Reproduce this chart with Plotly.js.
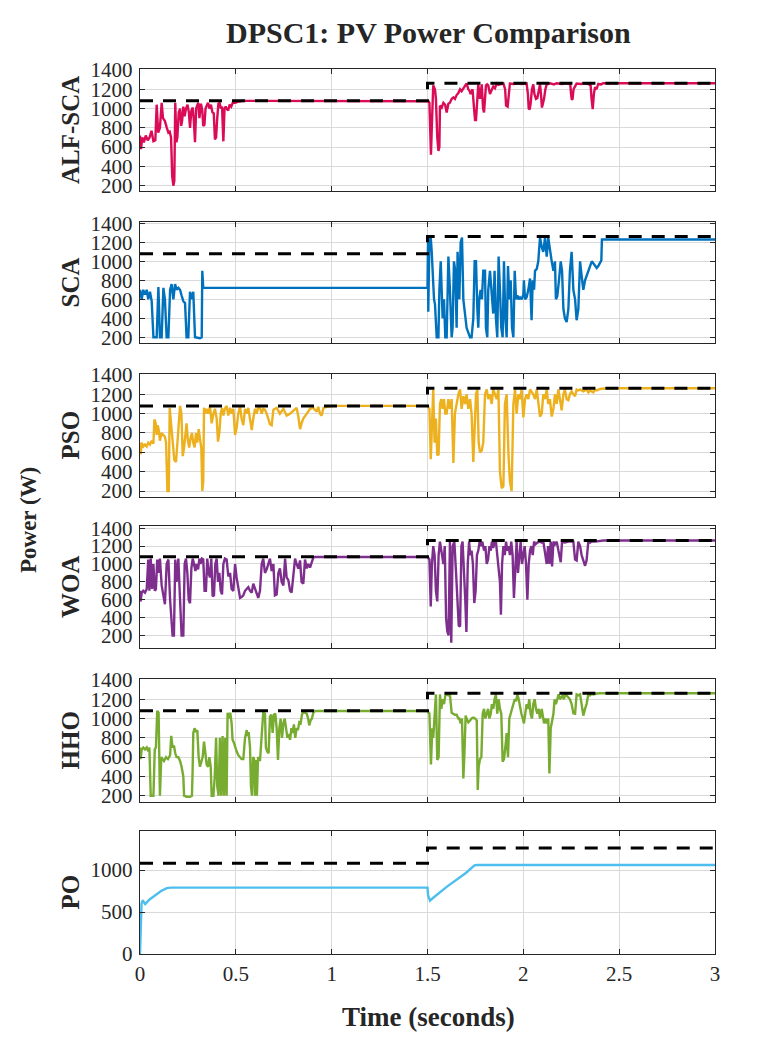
<!DOCTYPE html>
<html>
<head>
<meta charset="utf-8">
<script src="https://cdn.plot.ly/plotly-3.0.1.min.js"></script>
<style>
  html, body { margin: 0; padding: 0; background: #fff; }
  #plot { width: 757px; height: 1040px; }
</style>
</head>
<body>
<div id="plot"></div>
<script>
// panel names and colours
const panelNames = ["ALF-SCA", "SCA", "PSO", "WOA", "HHO", "PO"];
const panelColors = ["#DA0B57", "#0072BD", "#EDB120", "#7E2F8E", "#77AC30", "#4DBEEE"];

// reference (available max power) step
const refTime = [0, 1.5, 1.5, 3];
const refPower = [1080, 1080, 1262, 1262];

// [time s, power W]
const alfScaData = [[0,720],[0.005,580],[0.012,700],[0.02,650],[0.03,720],[0.04,670],[0.05,700],[0.06,770],[0.07,660],[0.08,670],[0.087,1040],[0.095,750],[0.104,800],[0.113,1060],[0.12,900],[0.13,870],[0.14,800],[0.148,750],[0.155,760],[0.162,700],[0.168,300],[0.174,200],[0.179,250],[0.184,1060],[0.19,650],[0.195,700],[0.202,960],[0.209,1000],[0.215,820],[0.22,880],[0.226,1020],[0.233,920],[0.24,1000],[0.248,1040],[0.255,960],[0.261,800],[0.268,980],[0.275,1010],[0.28,900],[0.287,650],[0.293,1000],[0.3,1040],[0.304,1060],[0.31,900],[0.318,1050],[0.325,980],[0.33,820],[0.336,830],[0.342,1000],[0.348,1030],[0.355,1060],[0.362,1000],[0.37,1040],[0.378,960],[0.385,950],[0.391,680],[0.397,700],[0.403,900],[0.409,1050],[0.415,1060],[0.422,1000],[0.428,1020],[0.435,660],[0.441,1000],[0.447,1020],[0.452,1000],[0.46,980],[0.468,1040],[0.476,1020],[0.484,1060],[0.496,1060],[0.51,1070],[0.53,1078],[0.56,1080],[1.5,1080],
  [1.505,1075],[1.51,1060],[1.518,520],[1.524,900],[1.53,1240],[1.539,1200],[1.544,1100],[1.551,700],[1.557,560],[1.562,600],[1.565,1030],[1.574,1010],[1.583,1060],[1.592,1040],[1.6,960],[1.609,1050],[1.617,1060],[1.626,1100],[1.635,1115],[1.643,1100],[1.652,1140],[1.661,1160],[1.67,1200],[1.678,1180],[1.687,1210],[1.696,1240],[1.704,1260],[1.713,1200],[1.72,1180],[1.725,1150],[1.735,1200],[1.743,1000],[1.748,880],[1.753,880],[1.76,1100],[1.765,1250],[1.774,1100],[1.783,1250],[1.79,1000],[1.795,960],[1.8,1100],[1.805,1240],[1.811,1250],[1.817,1240],[1.826,1150],[1.835,1200],[1.843,1230],[1.852,1210],[1.861,1260],[1.87,1245],[1.878,1250],[1.887,1255],[1.896,1260],[1.905,1200],[1.91,1030],[1.918,1020],[1.924,1150],[1.93,1260],[1.95,1255],[1.97,1262],[1.99,1255],[2.017,1262],[2.024,1150],[2.028,1000],[2.033,990],[2.038,1050],[2.045,1200],[2.052,1250],[2.058,1150],[2.066,1100],[2.073,1110],[2.078,1150],[2.087,1250],[2.092,1150],[2.097,1010],[2.102,1050],[2.108,1100],[2.115,1200],[2.122,1250],[2.14,1262],[2.16,1250],[2.174,1262],[2.2,1255],[2.226,1262],[2.245,1250],[2.249,1150],[2.253,1090],[2.257,1100],[2.262,1200],[2.27,1230],[2.278,1260],[2.3,1255],[2.32,1262],[2.34,1255],[2.351,1240],[2.356,1100],[2.362,994],[2.368,1150],[2.374,1220],[2.382,1200],[2.391,1255],[2.405,1250],[2.417,1262],[3,1262]];

const scaData = [[0,700],[0.009,600],[0.017,700],[0.026,650],[0.035,700],[0.043,600],[0.052,680],[0.061,580],[0.07,200],[0.078,200],[0.087,200],[0.096,730],[0.104,200],[0.113,200],[0.122,720],[0.13,600],[0.139,200],[0.148,200],[0.157,700],[0.165,760],[0.174,600],[0.183,760],[0.191,700],[0.2,720],[0.209,700],[0.217,640],[0.226,580],[0.235,560],[0.243,200],[0.252,200],[0.261,680],[0.27,600],[0.278,680],[0.287,200],[0.296,195],[0.313,190],[0.322,200],[0.325,900],[0.33,720],[1.5,720],
  [1.503,1250],[1.504,470],[1.51,1250],[1.517,1250],[1.522,1100],[1.527,800],[1.534,600],[1.539,550],[1.548,200],[1.557,200],[1.562,700],[1.569,1000],[1.574,700],[1.579,400],[1.586,600],[1.593,200],[1.6,200],[1.609,1050],[1.617,700],[1.626,200],[1.631,300],[1.638,1000],[1.645,900],[1.652,300],[1.657,1100],[1.666,600],[1.673,1200],[1.68,1250],[1.687,600],[1.696,400],[1.704,300],[1.713,250],[1.722,200],[1.73,200],[1.739,400],[1.746,1000],[1.753,1000],[1.76,500],[1.765,300],[1.77,600],[1.777,700],[1.784,600],[1.791,900],[1.8,900],[1.805,300],[1.812,200],[1.817,700],[1.826,900],[1.835,600],[1.843,450],[1.85,900],[1.857,400],[1.864,200],[1.871,1050],[1.878,700],[1.885,300],[1.892,200],[1.899,1000],[1.906,400],[1.913,200],[1.92,950],[1.927,600],[1.934,800],[1.941,300],[1.948,200],[1.955,900],[1.962,600],[1.969,640],[1.976,600],[1.983,620],[1.991,600],[2.0,650],[2.003,800],[2.009,600],[2.017,620],[2.026,700],[2.035,820],[2.043,380],[2.049,800],[2.056,700],[2.061,900],[2.07,920],[2.078,1000],[2.087,1250],[2.096,1150],[2.104,1100],[2.113,1250],[2.122,1050],[2.13,1250],[2.139,1100],[2.148,1000],[2.157,900],[2.165,1000],[2.17,600],[2.177,630],[2.186,800],[2.195,1000],[2.202,900],[2.209,500],[2.217,400],[2.226,360],[2.235,500],[2.243,900],[2.252,1100],[2.261,700],[2.27,600],[2.278,380],[2.287,500],[2.296,1000],[2.304,850],[2.313,700],[2.322,800],[2.33,850],[2.339,900],[2.348,950],[2.357,1000],[2.365,980],[2.374,950],[2.383,930],[2.391,950],[2.4,980],[2.407,1010],[2.41,1230],[3,1230]];

const psoData = [[0,700],[0.003,580],[0.009,700],[0.017,660],[0.026,680],[0.035,660],[0.043,700],[0.052,680],[0.061,720],[0.07,690],[0.075,940],[0.082,900],[0.087,780],[0.092,880],[0.099,820],[0.104,720],[0.113,800],[0.122,780],[0.13,760],[0.136,700],[0.143,200],[0.15,200],[0.155,1060],[0.162,900],[0.169,700],[0.174,560],[0.179,520],[0.188,500],[0.195,700],[0.202,800],[0.209,1080],[0.216,1000],[0.223,560],[0.23,650],[0.237,800],[0.243,900],[0.25,720],[0.257,650],[0.264,750],[0.271,800],[0.278,700],[0.285,650],[0.292,800],[0.299,700],[0.306,840],[0.313,760],[0.32,640],[0.325,200],[0.33,300],[0.334,1060],[0.341,1000],[0.348,1050],[0.357,1000],[0.365,1080],[0.374,900],[0.383,1000],[0.391,1050],[0.4,950],[0.407,710],[0.414,800],[0.421,1000],[0.428,1060],[0.435,980],[0.443,1050],[0.452,1080],[0.461,980],[0.47,1060],[0.478,1000],[0.487,1050],[0.496,780],[0.504,850],[0.513,1000],[0.522,1080],[0.53,950],[0.539,880],[0.548,1050],[0.557,1000],[0.565,1060],[0.574,950],[0.583,830],[0.591,950],[0.6,1050],[0.609,1000],[0.617,1070],[0.626,1060],[0.635,1000],[0.643,1050],[0.652,1040],[0.661,1000],[0.678,890],[0.687,880],[0.696,1040],[0.713,1060],[0.73,1000],[0.748,1050],[0.765,980],[0.783,1000],[0.8,1030],[0.817,1060],[0.826,970],[0.835,840],[0.843,900],[0.852,950],[0.87,1000],[0.887,1050],[0.904,1060],[0.922,1020],[0.93,1070],[0.939,1000],[0.948,980],[0.957,1060],[0.974,1070],[0.991,1075],[1.009,1080],[1.5,1080],
  [1.51,1050],[1.517,528],[1.523,900],[1.53,1250],[1.537,700],[1.544,950],[1.551,570],[1.558,580],[1.565,1100],[1.572,1150],[1.579,1050],[1.586,1150],[1.593,1000],[1.6,1000],[1.609,1150],[1.617,1050],[1.626,1150],[1.635,490],[1.643,1000],[1.652,1100],[1.661,1200],[1.67,1250],[1.678,1050],[1.687,1180],[1.696,1100],[1.704,1200],[1.713,1050],[1.722,1150],[1.73,1000],[1.739,500],[1.746,800],[1.753,1200],[1.76,1250],[1.767,700],[1.774,600],[1.783,620],[1.791,700],[1.8,1200],[1.809,1250],[1.817,1150],[1.826,1200],[1.835,1100],[1.843,1250],[1.852,1200],[1.861,1150],[1.87,1250],[1.878,400],[1.887,230],[1.896,250],[1.904,1100],[1.913,1200],[1.922,600],[1.93,300],[1.939,200],[1.948,1100],[1.957,1250],[1.965,1000],[1.974,1200],[1.983,1150],[1.991,1250],[2.0,960],[2.009,1150],[2.017,1200],[2.026,1150],[2.035,1250],[2.052,1200],[2.061,1150],[2.07,1250],[2.087,970],[2.096,1000],[2.104,1200],[2.113,1150],[2.122,1250],[2.13,1100],[2.139,1150],[2.148,970],[2.157,1050],[2.165,1200],[2.174,1100],[2.183,1250],[2.191,1150],[2.2,1035],[2.209,1200],[2.217,1250],[2.226,1150],[2.235,1140],[2.243,1200],[2.252,1230],[2.261,1200],[2.27,1180],[2.278,1250],[2.287,1240],[2.296,1250],[2.313,1230],[2.33,1250],[2.339,1220],[2.348,1240],[2.357,1230],[2.365,1220],[2.374,1250],[2.383,1240],[2.4,1255],[2.417,1258],[2.435,1262],[3,1262]];

const woaData = [[0,700],[0.003,580],[0.009,680],[0.017,700],[0.026,680],[0.035,720],[0.043,1050],[0.049,700],[0.056,1060],[0.063,720],[0.07,1000],[0.077,700],[0.083,720],[0.09,1050],[0.097,900],[0.104,1060],[0.113,760],[0.122,650],[0.13,550],[0.139,1000],[0.148,1050],[0.157,600],[0.165,300],[0.17,200],[0.177,200],[0.184,1050],[0.191,800],[0.2,1060],[0.209,600],[0.217,200],[0.226,200],[0.233,1000],[0.24,1060],[0.247,900],[0.254,600],[0.261,560],[0.268,950],[0.275,1060],[0.282,1000],[0.289,920],[0.296,1000],[0.303,940],[0.31,1060],[0.316,1000],[0.323,1060],[0.33,1050],[0.337,700],[0.344,700],[0.351,1060],[0.358,900],[0.365,850],[0.372,1060],[0.379,640],[0.386,650],[0.393,1000],[0.4,1060],[0.407,800],[0.414,900],[0.421,700],[0.428,660],[0.435,1000],[0.443,1060],[0.452,1050],[0.461,860],[0.47,900],[0.478,720],[0.487,700],[0.496,1000],[0.504,850],[0.513,720],[0.522,620],[0.53,630],[0.539,650],[0.548,700],[0.557,720],[0.565,740],[0.574,700],[0.583,680],[0.591,780],[0.6,720],[0.609,650],[0.617,620],[0.626,700],[0.635,1000],[0.643,1060],[0.652,900],[0.661,940],[0.67,1000],[0.678,1060],[0.687,920],[0.696,1000],[0.704,650],[0.713,660],[0.722,900],[0.73,950],[0.739,800],[0.748,760],[0.757,1060],[0.765,850],[0.774,820],[0.783,700],[0.791,680],[0.8,900],[0.809,1060],[0.817,1000],[0.826,950],[0.835,1040],[0.843,800],[0.852,780],[0.861,1050],[0.87,950],[0.878,1000],[0.887,960],[0.896,1020],[0.904,1070],[0.913,1078],[1.5,1078],
  [1.51,1050],[1.517,526],[1.523,1000],[1.53,1200],[1.537,1100],[1.544,700],[1.551,582],[1.558,1100],[1.565,1250],[1.574,1100],[1.583,1000],[1.59,1200],[1.597,400],[1.603,250],[1.61,200],[1.617,1250],[1.624,120],[1.631,1200],[1.64,1250],[1.649,900],[1.656,500],[1.663,310],[1.67,300],[1.677,1200],[1.683,1250],[1.69,800],[1.697,600],[1.703,240],[1.71,1000],[1.717,1250],[1.723,1100],[1.73,1150],[1.737,1000],[1.744,563],[1.751,700],[1.758,1100],[1.765,1150],[1.772,1250],[1.779,1200],[1.786,1250],[1.795,1150],[1.802,1200],[1.809,1000],[1.816,1050],[1.823,1200],[1.83,1150],[1.836,1250],[1.843,1180],[1.85,1250],[1.857,1250],[1.864,1100],[1.871,1000],[1.878,800],[1.883,433],[1.889,1000],[1.896,1200],[1.903,1100],[1.91,1250],[1.916,1150],[1.923,1200],[1.93,1100],[1.937,1250],[1.944,1100],[1.951,619],[1.958,1000],[1.965,1250],[1.972,900],[1.979,1100],[1.986,1250],[1.993,1000],[2.0,1100],[2.007,1200],[2.014,1000],[2.021,600],[2.028,1000],[2.035,1150],[2.042,1200],[2.049,1100],[2.056,1250],[2.063,1220],[2.073,1240],[2.087,1250],[2.096,1240],[2.104,1255],[2.115,1100],[2.122,1000],[2.129,1200],[2.136,1000],[2.143,1250],[2.15,972],[2.157,1250],[2.165,1220],[2.174,1250],[2.188,1100],[2.195,1020],[2.202,1250],[2.217,1240],[2.235,1250],[2.261,1250],[2.27,1050],[2.278,1040],[2.287,1250],[2.296,1200],[2.304,1100],[2.313,1050],[2.322,980],[2.33,1040],[2.339,1250],[2.348,1240],[2.357,1255],[2.374,1250],[2.4,1260],[2.417,1262],[3,1262]];

const hhoData = [[0,700],[0.003,580],[0.009,680],[0.017,700],[0.026,680],[0.035,700],[0.043,660],[0.049,700],[0.056,200],[0.063,200],[0.07,200],[0.077,680],[0.083,700],[0.09,1080],[0.097,1060],[0.104,200],[0.111,600],[0.118,580],[0.125,560],[0.136,600],[0.146,580],[0.157,620],[0.163,820],[0.17,700],[0.177,720],[0.184,640],[0.191,600],[0.2,600],[0.209,560],[0.217,500],[0.226,400],[0.23,200],[0.243,190],[0.261,190],[0.271,200],[0.275,500],[0.278,850],[0.285,900],[0.292,860],[0.299,880],[0.306,600],[0.313,500],[0.32,560],[0.327,600],[0.334,760],[0.341,600],[0.348,520],[0.355,500],[0.362,600],[0.369,500],[0.374,200],[0.383,200],[0.39,400],[0.397,800],[0.403,300],[0.41,200],[0.417,800],[0.424,200],[0.431,820],[0.438,200],[0.445,800],[0.452,200],[0.457,1060],[0.464,1000],[0.471,1060],[0.478,950],[0.483,780],[0.49,750],[0.497,700],[0.504,660],[0.513,620],[0.522,600],[0.53,580],[0.539,580],[0.548,800],[0.557,880],[0.562,820],[0.567,860],[0.574,700],[0.579,300],[0.584,200],[0.59,600],[0.595,580],[0.6,200],[0.605,570],[0.61,200],[0.616,600],[0.626,560],[0.635,800],[0.643,1060],[0.652,1050],[0.657,700],[0.664,656],[0.671,640],[0.678,1020],[0.685,1040],[0.692,850],[0.699,1040],[0.706,1050],[0.713,900],[0.72,570],[0.727,900],[0.734,1000],[0.741,800],[0.748,950],[0.755,1000],[0.762,900],[0.769,800],[0.776,840],[0.783,780],[0.79,900],[0.796,850],[0.803,940],[0.81,800],[0.817,900],[0.824,880],[0.831,960],[0.838,950],[0.845,1040],[0.852,1070],[0.861,1060],[0.87,1050],[0.877,1000],[0.883,930],[0.89,980],[0.897,1000],[0.904,1060],[0.913,1078],[1.5,1078],
  [1.51,1050],[1.518,525],[1.525,900],[1.53,800],[1.537,1000],[1.544,1250],[1.551,570],[1.558,600],[1.565,1250],[1.572,1100],[1.579,1200],[1.586,1150],[1.593,1240],[1.6,1250],[1.609,1240],[1.617,1250],[1.626,1060],[1.635,1050],[1.643,1040],[1.652,1040],[1.661,1000],[1.666,1000],[1.673,950],[1.68,1000],[1.687,380],[1.692,600],[1.699,1030],[1.704,1000],[1.713,960],[1.722,980],[1.73,1000],[1.739,1010],[1.748,1000],[1.757,980],[1.762,260],[1.767,500],[1.774,580],[1.781,600],[1.788,1050],[1.795,1100],[1.802,1000],[1.809,1050],[1.816,1100],[1.823,1000],[1.83,1050],[1.836,1150],[1.843,1100],[1.85,1200],[1.857,1250],[1.864,1050],[1.871,1200],[1.878,1100],[1.885,1050],[1.892,552],[1.899,580],[1.906,700],[1.913,850],[1.92,600],[1.927,1000],[1.934,1050],[1.941,1100],[1.948,1150],[1.955,1200],[1.962,1180],[1.969,1250],[1.976,1200],[1.983,1100],[1.99,1050],[1.997,1000],[2.003,950],[2.01,1050],[2.017,1150],[2.024,1100],[2.031,1200],[2.038,1050],[2.045,1000],[2.052,1150],[2.059,1200],[2.066,1100],[2.073,1050],[2.08,1100],[2.087,1000],[2.096,1100],[2.101,1050],[2.108,950],[2.115,1000],[2.122,950],[2.13,1000],[2.136,431],[2.143,900],[2.15,1000],[2.157,1050],[2.163,1200],[2.17,1150],[2.177,1200],[2.184,1250],[2.191,1200],[2.198,1220],[2.205,1240],[2.212,1200],[2.219,1250],[2.226,1240],[2.235,1220],[2.243,1200],[2.252,1150],[2.261,1054],[2.27,1050],[2.278,1250],[2.287,1240],[2.296,1250],[2.304,1150],[2.313,1030],[2.322,1100],[2.33,1150],[2.339,1250],[2.348,1240],[2.357,1255],[2.365,1250],[2.383,1260],[2.4,1262],[3,1262]];

const poData = [[0,0],[0.004,480],[0.008,600],[0.014,640],[0.02,620],[0.027,595],[0.035,615],[0.05,650],[0.08,700],[0.11,750],[0.14,785],[0.16,790],[1.5,790],[1.503,700],[1.513,635],[1.53,670],[1.6,800],[1.7,965],[1.745,1055],[1.76,1060],[3,1060]];

const seriesList = [alfScaData, scaData, psoData, woaData, hhoData, poData];

// layout helpers (pixel boxes of each panel, y limits, tick step)
const panelBoxes = [[69,191],[222,343],[374,497],[526,648],[679,802],[831,954]];
const yRanges = [[145,1410],[140,1414],[138,1410],[60,1425],[135,1410],[0,1465]];
const yTickStep = [200,200,200,200,200,500];

const W = 757, H = 1040;
const serif = "Liberation Serif, Times New Roman, serif";
const axisColor = "#262626";

const traces = [];
const layout = {
  width: W, height: H,
  margin: { l: 0, r: 0, t: 0, b: 0 },
  paper_bgcolor: "#fff", plot_bgcolor: "#fff",
  showlegend: false,
  font: { family: serif, color: axisColor },
  annotations: []
};

seriesList.forEach((d, i) => {
  const k = i === 0 ? "" : String(i + 1);
  traces.push({
    x: d.map(p => p[0]), y: d.map(p => p[1]),
    xaxis: "x" + k, yaxis: "y" + k,
    type: "scatter", mode: "lines",
    line: { color: panelColors[i], width: 2.4 },
    hoverinfo: "skip"
  });
  traces.push({
    x: refTime, y: refPower,
    xaxis: "x" + k, yaxis: "y" + k,
    type: "scatter", mode: "lines",
    line: { color: "#000", width: 3, dash: "13px,10px" },
    hoverinfo: "skip"
  });

  const [top, bot] = panelBoxes[i];
  const common = {
    ticks: "inside", ticklen: 5, tickwidth: 1, tickcolor: axisColor,
    showline: true, linecolor: axisColor, linewidth: 1.3, mirror: "ticks",
    showgrid: true, gridcolor: "#dadada", gridwidth: 1,
    zeroline: false,
    tickfont: { family: serif, size: 21, color: axisColor }
  };
  layout["xaxis" + k] = Object.assign({}, common, {
    domain: [140 / W, 715 / W], range: [0, 3],
    anchor: "y" + k, tick0: 0, dtick: 0.5,
    showticklabels: i === seriesList.length - 1
  });
  layout["yaxis" + k] = Object.assign({}, common, {
    domain: [1 - bot / H, 1 - top / H], range: yRanges[i],
    anchor: "x" + k, tick0: 0, dtick: yTickStep[i], ticklabelstandoff: 2
  });
  layout.annotations.push({
    text: "<b>" + panelNames[i] + "</b>", textangle: -90,
    xref: "paper", yref: "paper", x: 70 / W, y: 1 - (top + bot) / 2 / H,
    xanchor: "center", yanchor: "middle", showarrow: false,
    font: { family: serif, size: 25, color: axisColor }
  });
});

layout.annotations.push(
  { text: "<b>DPSC1: PV Power Comparison</b>", xref: "paper", yref: "paper",
    x: 428 / W, y: 1 - 32 / H, xanchor: "center", yanchor: "middle", showarrow: false,
    font: { family: serif, size: 30, color: axisColor } },
  { text: "<b>Power (W)</b>", textangle: -90, xref: "paper", yref: "paper",
    x: 28 / W, y: 1 - 520 / H, xanchor: "center", yanchor: "middle", showarrow: false,
    font: { family: serif, size: 23, color: axisColor } },
  { text: "<b>Time (seconds)</b>", xref: "paper", yref: "paper",
    x: 428 / W, y: 1 - 1017 / H, xanchor: "center", yanchor: "middle", showarrow: false,
    font: { family: serif, size: 27, color: axisColor } }
);

Plotly.newPlot("plot", traces, layout, { displayModeBar: false, staticPlot: true });
</script>
</body>
</html>
